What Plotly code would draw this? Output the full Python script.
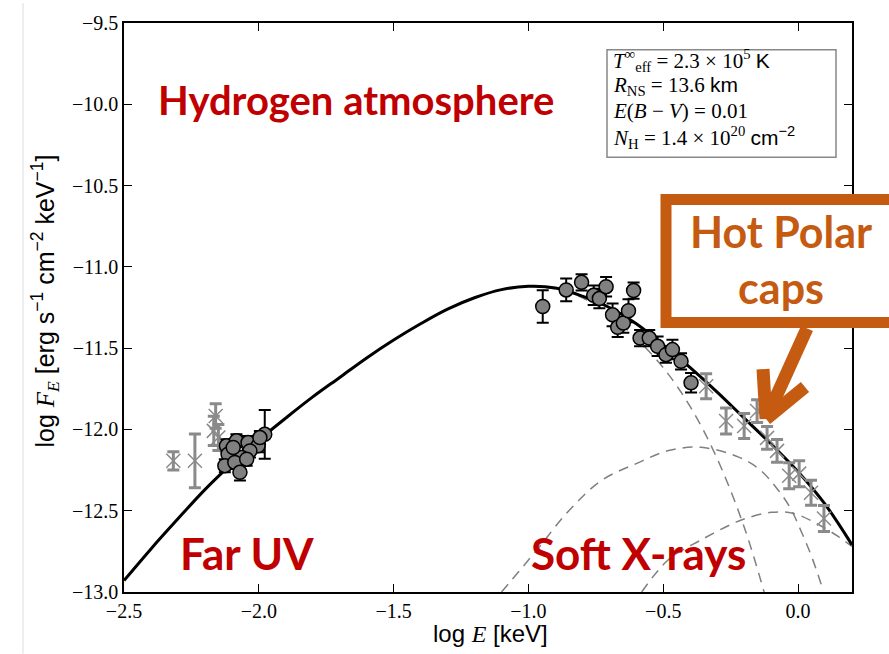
import plotly.graph_objects as go

# ---------------- data ----------------
# model curves
model_x = [-2.5, -2.4, -2.3, -2.2, -2.1, -2.0, -1.9, -1.8, -1.7, -1.6, -1.5, -1.4, -1.3, -1.2,
           -1.1, -1.0, -0.9, -0.8, -0.7, -0.6, -0.5, -0.4, -0.3, -0.2, -0.1, 0.0, 0.1, 0.2]
model_y = [-12.93, -12.735, -12.55, -12.37, -12.21, -12.065, -11.93, -11.80, -11.68, -11.56,
           -11.45, -11.35, -11.26, -11.19, -11.14, -11.12, -11.13, -11.18, -11.25, -11.35,
           -11.48, -11.62, -11.77, -11.93, -12.09, -12.26, -12.46, -12.71]

atm_x = [-1.0, -0.9, -0.8, -0.7, -0.6, -0.5, -0.4, -0.3, -0.2, -0.126]
atm_y = [-11.12, -11.135, -11.19, -11.29, -11.44, -11.62, -11.86, -12.18, -12.60, -13.0]

cap1_x = [-1.10, -0.97, -0.85, -0.73, -0.60, -0.48, -0.36, -0.22, -0.14, -0.08, -0.03, 0.015, 0.052, 0.093]
cap1_y = [-13.0, -12.744, -12.50, -12.315, -12.21, -12.13, -12.11, -12.17, -12.25, -12.36, -12.48,
          -12.64, -12.79, -12.99]

cap2_x = [-0.58, -0.48, -0.36, -0.23, -0.18, -0.10, -0.02, 0.07, 0.15, 0.2]
cap2_y = [-13.0, -12.80, -12.68, -12.57, -12.54, -12.51, -12.515, -12.58, -12.66, -12.72]

# far UV photometry (circles)
uv_x = [-1.978, -2.120, -2.083, -2.040, -2.003, -1.996, -2.114, -2.033, -2.064, -2.126, -2.089,
        -2.095, -2.070, -2.045]
uv_y = [-12.030, -12.101, -12.070, -12.081, -12.101, -12.050, -12.152, -12.132, -12.172, -12.223,
        -12.203, -12.111, -12.264, -12.183]
uv_err = [0.15, 0.04, 0.04, 0.04, 0.04, 0.04, 0.04, 0.04, 0.04, 0.04, 0.04, 0.04, 0.05, 0.04]

# far UV crosses
uvx_x = [-2.317, -2.237, -2.160, -2.167, -2.150]
uvx_y = [-12.193, -12.193, -11.917, -12.009, -12.05]
uvx_err = [0.056, 0.165, 0.075, 0.09, 0.08]

# soft X-ray spectrum (circles)
xr_x = [-0.947, -0.860, -0.803, -0.758, -0.737, -0.712, -0.688, -0.669, -0.648, -0.629, -0.610,
        -0.586, -0.552, -0.521, -0.490, -0.466, -0.434, -0.397]
xr_y = [-11.244, -11.142, -11.095, -11.175, -11.195, -11.122, -11.295, -11.372, -11.346, -11.270,
        -11.146, -11.438, -11.438, -11.489, -11.540, -11.509, -11.581, -11.713]
xr_err = [0.10, 0.07, 0.05, 0.06, 0.06, 0.06, 0.07, 0.06, 0.06, 0.07, 0.05, 0.05, 0.05, 0.06,
          0.05, 0.06, 0.05, 0.06]

# harder X-ray points (crosses)
hx_x = [-0.341, -0.267, -0.200, -0.152, -0.115, -0.078, -0.033, 0.004, 0.048, 0.096]
hx_y = [-11.734, -11.948, -11.979, -11.887, -12.052, -12.132, -12.285, -12.272, -12.389, -12.548]
hx_err = [0.077, 0.08, 0.077, 0.07, 0.07, 0.07, 0.08, 0.08, 0.077, 0.08]

x_ticks = [-2.5, -2.0, -1.5, -1.0, -0.5, 0.0]
y_ticks = [-13.0, -12.5, -12.0, -11.5, -11.0, -10.5, -10.0, -9.5]

# ---------------- figure ----------------
fig = go.Figure()
dash_style = dict(color="#808080", width=1.5, dash="10px,7px", shape="spline")
for xs, ys in [(atm_x, atm_y), (cap1_x, cap1_y), (cap2_x, cap2_y)]:
    fig.add_trace(go.Scatter(x=xs, y=ys, mode="lines", line=dash_style, hoverinfo="skip"))

fig.add_trace(go.Scatter(x=model_x, y=model_y, mode="lines",
                         line=dict(color="black", width=3, shape="spline")))

cross_marker = dict(symbol="x-thin", size=14, line=dict(color="#8a8a8a", width=1.5))
cross_err = dict(color="#8a8a8a", thickness=3, width=6)
fig.add_trace(go.Scatter(x=uvx_x, y=uvx_y, mode="markers", marker=cross_marker,
                         error_y=dict(type="data", array=uvx_err, **cross_err)))
fig.add_trace(go.Scatter(x=hx_x, y=hx_y, mode="markers", marker=cross_marker,
                         error_y=dict(type="data", array=hx_err, **cross_err)))

circ_marker = dict(symbol="circle", size=14, color="#808080", line=dict(color="black", width=1.5))
circ_err = dict(color="black", thickness=2, width=6)
fig.add_trace(go.Scatter(x=uv_x, y=uv_y, mode="markers", marker=circ_marker,
                         error_y=dict(type="data", array=uv_err, **circ_err)))
fig.add_trace(go.Scatter(x=xr_x, y=xr_y, mode="markers", marker=circ_marker,
                         error_y=dict(type="data", array=xr_err, **circ_err)))

L, R, T, B = 124, 37, 20, 62
W, H = 889, 654
PW, PH = W - L - R, H - T - B


def px(xp):
    return (xp - L) / PW


def py(yp):
    return (H - B - yp) / PH


axis_common = dict(showline=True, linecolor="black", linewidth=1.5, mirror="ticks",
                   ticks="inside", ticklen=8, tickwidth=1, tickcolor="black",
                   showgrid=False, zeroline=False,
                   tickfont=dict(family="Liberation Serif", size=20, color="black"))
fig.update_xaxes(range=[-2.5, 0.2], tickvals=x_ticks,
                 ticktext=[f"{v:.1f}".replace("-", "−") for v in x_ticks], **axis_common)
fig.update_yaxes(range=[-13.0, -9.5], tickvals=y_ticks,
                 ticktext=[f"{v:.1f}".replace("-", "−") for v in y_ticks], **axis_common)

red = "#c00000"
orange = "#c55a11"
ann = []
ann.append(dict(x=px(356), y=py(97), text="<b>Hydrogen atmosphere</b>",
                font=dict(family="Lato", size=40, color=red)))
ann.append(dict(x=px(247), y=py(553), text="<b>Far UV</b>",
                font=dict(family="Lato", size=44, color=red)))
ann.append(dict(x=px(638), y=py(553), text="<b>Soft X-rays</b>",
                font=dict(family="Lato", size=44, color=red)))
ann.append(dict(x=px(781), y=py(258), text="<b>Hot Polar<br>caps</b>",
                font=dict(family="Lato", size=43, color=orange)))
serif = dict(family="Liberation Serif", size=21, color="black")
sans = "font-family:Liberation Sans"
legend_lines = [
    f"<i>T</i><sup>∞</sup><sub>eff</sub> = 2.3 × 10<sup>5</sup> <span style='{sans}'>K</span>",
    f"<i>R</i><sub>NS</sub> = 13.6 <span style='{sans}'>km</span>",
    "<i>E</i>(<i>B</i> − <i>V</i>) = 0.01",
    f"<i>N</i><sub>H</sub> = 1.4 × 10<sup>20</sup> <span style='{sans}'>cm<sup>−2</sup></span>",
]
legend_y = [58, 83, 108, 135]
for t, yy in zip(legend_lines, legend_y):
    ann.append(dict(x=px(611), y=py(yy), text=t, font=serif, xanchor="left"))
ann.append(dict(x=px(45), y=py(300), textangle=-90,
                text="log <i style='font-family:Liberation Serif'>F<sub>E</sub></i> [erg s<sup>−1</sup> cm<sup>−2</sup> keV<sup>−1</sup>]",
                font=dict(family="Liberation Sans", size=25, color="black")))
ann.append(dict(x=px(490), y=py(634), text="log <i style='font-family:Liberation Serif'>E</i> [keV]",
                font=dict(family="Liberation Sans", size=24, color="black")))
for a in ann:
    a.update(xref="paper", yref="paper", showarrow=False)
    a.setdefault("xanchor", "center")
    a.setdefault("yanchor", "middle")

shapes = []
# slide border line at far left
shapes.append(dict(type="line", xref="paper", yref="paper", x0=px(23), x1=px(23), y0=py(0), y1=py(654),
                   line=dict(color="#dddddd", width=1)))
# parameter box
shapes.append(dict(type="rect", xref="paper", yref="paper", x0=px(607), x1=px(836), y0=py(155), y1=py(47),
                   line=dict(color="#888888", width=1.5), fillcolor="white", layer="above"))
# orange call-out box
shapes.append(dict(type="rect", xref="paper", yref="paper", x0=px(666), x1=px(905), y0=py(321), y1=py(197.5),
                   line=dict(color=orange, width=11), fillcolor="white", layer="above"))
# arrow
tip = (766, 418)
for start in [(807, 327), (763, 368), (805, 386)]:
    shapes.append(dict(type="line", xref="paper", yref="paper", x0=px(start[0]), y0=py(start[1]),
                       x1=px(tip[0]), y1=py(tip[1]), line=dict(color=orange, width=13), layer="above"))

fig.update_layout(width=W, height=H, margin=dict(l=L, r=R, t=T, b=B),
                  plot_bgcolor="white", paper_bgcolor="white", showlegend=False,
                  annotations=ann, shapes=shapes)

fig.write_html("out.html")
